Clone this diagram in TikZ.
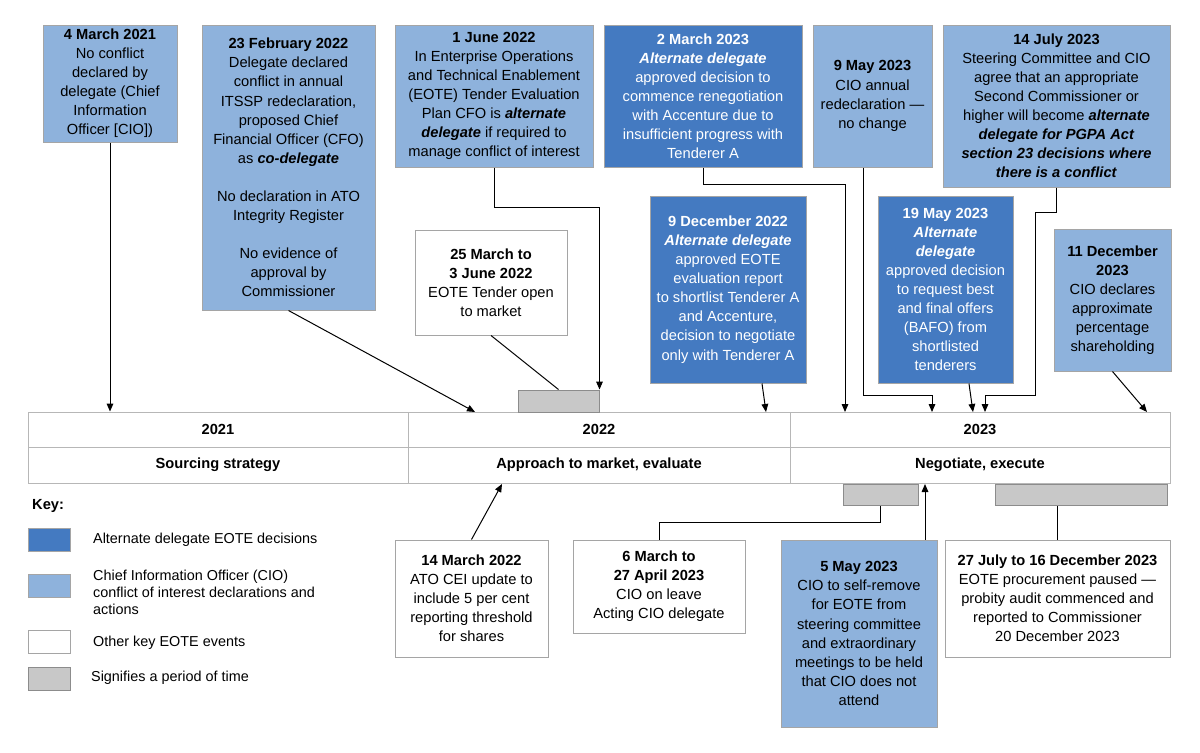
\documentclass[tikz,border=0pt]{standalone}
\usepackage{fontspec}
\setmainfont{Liberation Sans}
\usetikzlibrary{arrows.meta}
\definecolor{altblue}{RGB}{68,122,193}
\definecolor{cioblue}{RGB}{142,178,220}
\definecolor{periodgrey}{RGB}{200,200,200}
\definecolor{edgegrey}{RGB}{165,165,165}

\newcommand{\tlbox}[7]{%
 \node[#1, minimum width={(#5-#3)*0.75pt}, minimum height={(#6-#4)*0.75pt}] (#2) at ({(#3+#5)/2},{(#4+#6)/2}) {#7};%
}
\newcommand{\bi}[1]{\textbf{\textit{#1}}}

\begin{document}
\begin{tikzpicture}[x=0.75pt,y=-0.75pt,
  every node/.style={font=\fontsize{11}{14.3}\selectfont, align=center, inner sep=2pt},
  alt/.style={draw=edgegrey, fill=altblue, text=white},
  cio/.style={draw=edgegrey, fill=cioblue},
  other/.style={draw=edgegrey, fill=white},
  period/.style={draw=edgegrey!85!black, fill=periodgrey},
  cell/.style={draw=edgegrey!80, font=\fontsize{11}{14.3}\selectfont\bfseries},
  keytext/.style={anchor=west, align=left, font=\fontsize{10.8}{12.8}\selectfont},
  >={Triangle[length=6pt,width=5pt]}, line width=0.75pt]
  \useasboundingbox (0,0) rectangle (1200,753);

  \tlbox{cell}{yr21}{28}{412}{408}{447}{2021};
  \tlbox{cell}{yr22}{408}{412}{790}{447}{2022};
  \tlbox{cell}{yr23}{790}{412}{1170}{447}{2023};
  \tlbox{cell}{ph21}{28}{447}{408}{483}{Sourcing strategy};
  \tlbox{cell}{ph22}{408}{447}{790}{483}{Approach to market, evaluate};
  \tlbox{cell}{ph23}{790}{447}{1170}{483}{Negotiate, execute};

  \tlbox{period}{bar22}{518}{390}{599}{412}{};
  \tlbox{period}{bar23a}{843}{484}{918}{505}{};
  \tlbox{period}{bar23b}{995}{484}{1167}{505}{};

  \tlbox{cio}{mar21}{43}{25}{177}{142}{\textbf{4 March 2021}\\No conflict\\declared by\\delegate (Chief\\Information\\Officer [CIO])};
  \tlbox{cio}{feb22}{202}{25}{375}{310}{\textbf{23 February 2022}\\Delegate declared\\conflict in annual\\ITSSP redeclaration,\\proposed Chief\\Financial Officer (CFO)\\as \bi{co-delegate}\\[14.3pt]No declaration in ATO\\Integrity Register\\[14.3pt]No evidence of\\approval by\\Commissioner};
  \tlbox{cio}{jun22}{395}{25}{593}{167}{\textbf{1 June 2022}\\In Enterprise Operations\\and Technical Enablement\\(EOTE) Tender Evaluation\\Plan CFO is \bi{alternate}\\\bi{delegate} if required to\\manage conflict of interest};
  \tlbox{alt}{mar23}{604}{25}{802}{167}{\textbf{2 March 2023}\\\bi{Alternate delegate}\\approved decision to\\commence renegotiation\\with Accenture due to\\insufficient progress with\\Tenderer A};
  \tlbox{cio}{may23}{813}{25}{932}{167}{\textbf{9 May 2023}\\CIO annual\\redeclaration ---\\no change};
  \tlbox{cio}{jul23}{943}{25}{1170}{187}{\textbf{14 July 2023}\\Steering Committee and CIO\\agree that an appropriate\\Second Commissioner or\\higher will become \bi{alternate}\\\bi{delegate for PGPA Act}\\\bi{section 23 decisions where}\\\bi{there is a conflict}};
  \tlbox{other}{tender22}{415}{230}{567}{335}{\textbf{25 March to}\\\textbf{3 June 2022}\\EOTE Tender open\\to market};
  \tlbox{alt}{dec22}{650}{196}{806}{383}{\textbf{9 December 2022}\\\bi{Alternate delegate}\\approved EOTE\\evaluation report\\to shortlist Tenderer A\\and Accenture,\\decision to negotiate\\only with Tenderer A};
  \tlbox{alt}{bafo23}{878}{196}{1013}{383}{\textbf{19 May 2023}\\\bi{Alternate}\\\bi{delegate}\\approved decision\\to request best\\and final offers\\(BAFO) from\\shortlisted\\tenderers};
  \tlbox{cio}{dec23}{1054}{229}{1171}{371}{\textbf{11 December}\\\textbf{2023}\\CIO declares\\approximate\\percentage\\shareholding};

  \tlbox{other}{mar22}{395}{540}{548}{657}{\textbf{14 March 2022}\\ATO CEI update to\\include 5 per cent\\reporting threshold\\for shares};
  \tlbox{other}{leave23}{573}{540}{745}{633}{\textbf{6 March to}\\\textbf{27 April 2023}\\CIO on leave\\Acting CIO delegate};
  \tlbox{cio}{self23}{781}{540}{937}{727}{\textbf{5 May 2023}\\CIO to self-remove\\for EOTE from\\steering committee\\and extraordinary\\meetings to be held\\that CIO does not\\attend};
  \tlbox{other}{pause23}{945}{540}{1170}{657}{\textbf{27 July to 16 December 2023}\\EOTE procurement paused ---\\probity audit commenced and\\reported to Commissioner\\20 December 2023};

  \node[anchor=west, font=\fontsize{11}{14.3}\selectfont\bfseries] (keytitle) at (29,506) {Key:};
  \tlbox{alt}{keyalt}{28}{528}{70}{551}{};
  \tlbox{cio}{keycio}{28}{574}{70}{597}{};
  \tlbox{other}{keyother}{28}{630}{70}{653}{};
  \tlbox{period}{keyperiod}{28}{667}{70}{690}{};
  \node[keytext] (keyalttext) at (90,540) {Alternate delegate EOTE decisions};
  \node[keytext] (keyciotext) at (90,592) {Chief Information Officer (CIO)\\conflict of interest declarations and\\actions};
  \node[keytext] (keyothertext) at (90,643) {Other key EOTE events};
  \node[keytext] (keyperiodtext) at (88,678) {Signifies a period of time};

  \coordinate (p22a) at (475,412);
  \coordinate (p22b) at (766,412);
  \coordinate (p23a) at (845,412);
  \coordinate (p23b) at (932,412);
  \coordinate (p23c) at (973,412);
  \coordinate (p23d) at (985,412);
  \coordinate (p23e) at (1147,412);
  \coordinate (p22c) at (502,484);
  \coordinate (p23f) at (925,484);

  \draw[->] (mar21.south) -- (mar21.south |- yr21.north);
  \draw[->] (feb22.south) -- (p22a);
  \draw[->] (jun22.south) -- ++(0,40) -| (bar22.north east);
  \draw (tender22.south) -- (bar22.north);
  \draw[->] (mar23.south) -- ++(0,17) -| (p23a);
  \draw[->] ([xshift=25.5pt]dec22.south) -- (p22b);
  \draw[->] ([xshift=-7pt]may23.south) -- ++(0,228) -| (p23b);
  \draw[->] ([xshift=17.6pt]bafo23.south) -- (p23c);
  \draw[->] (jul23.south) -- ++(0,25) -- ++(-21,0) -- ++(0,183) -| (p23d);
  \draw[->] (dec23.south) -- (p23e);
  \draw[->] (mar22.north) -- (p22c);
  \draw (leave23.north) -- ++(0,-17) -| (bar23a.south);
  \draw[->] (self23.north -| p23f) -- (p23f);
  \draw (pause23.north) -- (pause23.north |- bar23b.south);
 \end{tikzpicture}
\end{document}
